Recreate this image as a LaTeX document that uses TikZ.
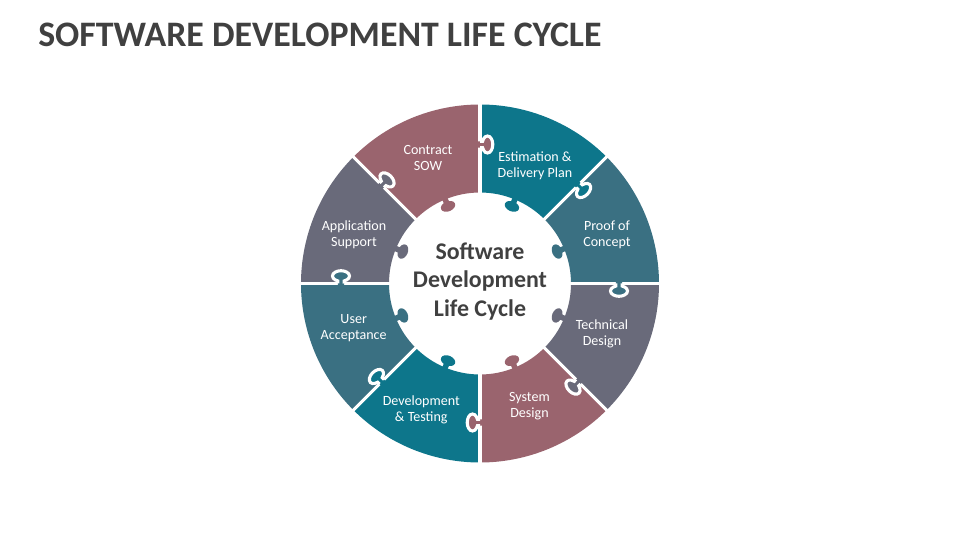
\documentclass[tikz,border=0pt]{standalone}
\usepackage{fontspec}
\setmainfont{Carlito}
\definecolor{roseclay}{RGB}{154,100,110}
\definecolor{deepteal}{RGB}{13,118,139}
\definecolor{slateteal}{RGB}{58,112,130}
\definecolor{duskgray}{RGB}{105,106,122}
\definecolor{inkgray}{RGB}{64,64,64}
\usepackage{tikz}

\begin{document}
\begin{tikzpicture}[x=0.025cm, y=0.025cm,
    seam/.style={white, line width=2.2pt},
    phase/.style={text=white, align=center, font=\fontsize{10}{11.5}\selectfont}]
    \useasboundingbox (0,0) rectangle (960,540);
    \node[anchor=base west, inner sep=0pt, text=inkgray, font=\fontsize{25.5}{30}\selectfont\bfseries] (heading) at (38,493) {SOFTWARE DEVELOPMENT LIFE CYCLE};
    \begin{scope}[shift={(480,256.5)}]
        \foreach \a/\col [evaluate=\a as \b using \a+45] in {0/slateteal,45/deepteal,90/roseclay,135/duskgray,180/slateteal,225/deepteal,270/roseclay,315/duskgray} {
            \fill[\col] (\a:91) arc[start angle=\a, end angle=\b, radius=91] -- (\b:179) arc[start angle=\b, end angle=\a, radius=179] -- cycle;
        }
        \foreach \a in {0,45,...,315}
            \draw[seam] (\a:90) -- (\a:181);
        \foreach \a/\col [evaluate=\a as \m using \a+22.5] in {0/slateteal,45/deepteal,90/roseclay,135/duskgray,180/slateteal,225/deepteal,270/roseclay,315/duskgray} {
            \begin{scope}[shift={(\a:139)}, rotate=\a-180]
                \fill[\col] (-3.2,-3) -- (-3.2,2.59) arc[start angle=247.9, end angle=-67.9, x radius=8.5, y radius=5.3] -- (3.2,-3) -- cycle;
                \draw[seam] (-3.2,0) -- (-3.2,2.59) arc[start angle=247.9, end angle=-67.9, x radius=8.5, y radius=5.3] -- (3.2,0);
            \end{scope}
            \begin{scope}[shift={(\m:91)}, rotate=\m+90]
                \fill[\col] (-2.8,-3) -- (-2.8,2.86) arc[start angle=248.1, end angle=-68.1, x radius=7.5, y radius=5] -- (2.8,-3) -- cycle;
            \end{scope}
        }
        \node[text=inkgray, align=center, font=\fontsize{17}{20.5}\selectfont\bfseries] (hub) at (0,2) {Software\\Development\\Life Cycle};
        \foreach \ang/\rad/\nm/\txt in {112.5/136/contract/{Contract\\SOW}, 65/130/estimate/{Estimation \&\\Delivery Plan}, 21/136/proof/{Proof of\\Concept}, -22.5/132/techdesign/{Technical\\Design}, -68/132/sysdesign/{System\\Design}, -115/139/devtest/{Development\\\& Testing}, -160.5/134/acceptance/{User\\Acceptance}, 159/135/support/{Application\\Support}}
            \node[phase] (\nm) at (\ang:\rad) {\txt};
    \end{scope}
\end{tikzpicture}
\end{document}
